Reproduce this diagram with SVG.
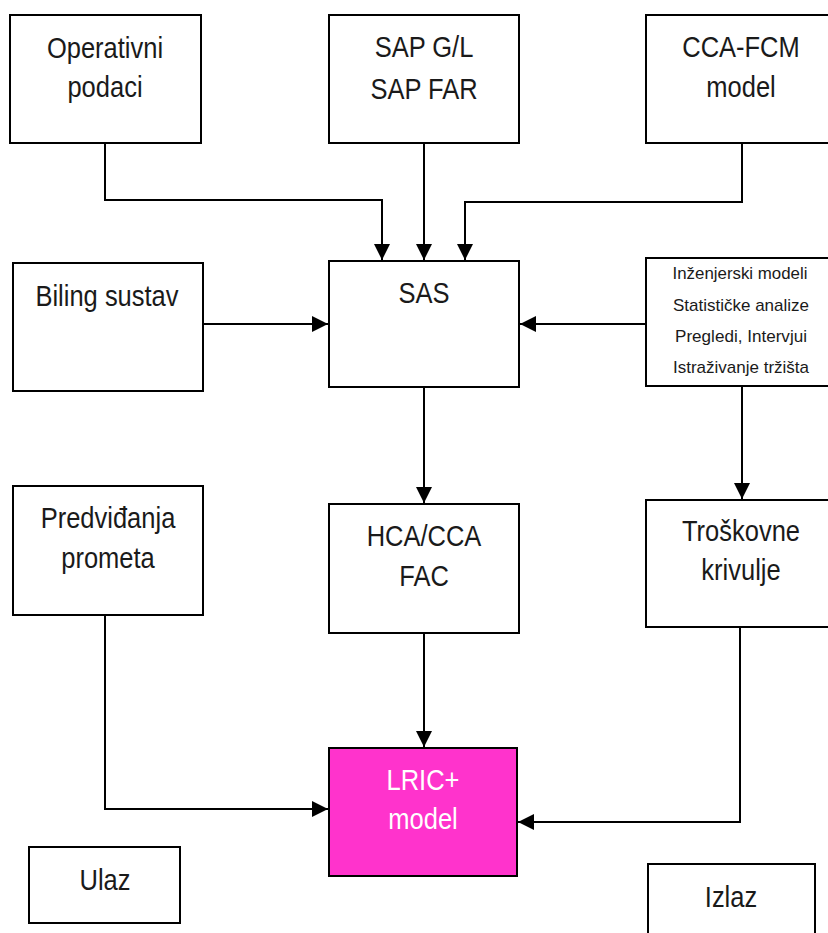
<svg xmlns="http://www.w3.org/2000/svg" width="828" height="933" viewBox="0 0 828 933">
<style>
.box{fill:#fff;stroke:#000;stroke-width:2}
.hl{fill:#ff33cc;stroke:#000;stroke-width:2}
.t{font-family:"Liberation Sans",Arial,sans-serif;font-size:30px;fill:#1a1a1a;text-anchor:middle}
.w{fill:#fff}
.s{font-family:"Liberation Sans",Arial,sans-serif;font-size:17px;fill:#1a1a1a;text-anchor:middle}
.c{fill:none;stroke:#000;stroke-width:2}
</style>
<defs>
<marker id="ah" viewBox="0 0 16 16" refX="16" refY="8" markerWidth="16" markerHeight="16" markerUnits="userSpaceOnUse" orient="auto">
<path d="M0,0 L16,8 L0,16 z" fill="#000"/>
</marker>
</defs>
<rect width="828" height="933" fill="#fff"/>
<g id="connectors">
<path class="c" d="M105,143 V200 H382 V260" marker-end="url(#ah)"/>
<path class="c" d="M424,143 V260" marker-end="url(#ah)"/>
<path class="c" d="M742,143 V202 H465 V260" marker-end="url(#ah)"/>
<path class="c" d="M203,324 H328" marker-end="url(#ah)"/>
<path class="c" d="M646,324 H520" marker-end="url(#ah)"/>
<path class="c" d="M742,386 V499" marker-end="url(#ah)"/>
<path class="c" d="M424,387 V503" marker-end="url(#ah)"/>
<path class="c" d="M424,633 V747" marker-end="url(#ah)"/>
<path class="c" d="M105,615 V809 H328" marker-end="url(#ah)"/>
<path class="c" d="M740,627 V822 H518" marker-end="url(#ah)"/>
</g>
<g id="operativni">
<rect class="box" x="10" y="15" width="191" height="128"/>
<text class="t" transform="translate(105,58) scale(0.85,1)">Operativni</text>
<text class="t" transform="translate(105,97) scale(0.85,1)">podaci</text>
</g>
<g id="sap">
<rect class="box" x="329" y="15" width="190" height="128"/>
<text class="t" transform="translate(424,57) scale(0.85,1)">SAP G/L</text>
<text class="t" transform="translate(424,99) scale(0.85,1)">SAP FAR</text>
</g>
<g id="ccafcm">
<rect class="box" x="646" y="15" width="190" height="128"/>
<text class="t" transform="translate(741,57) scale(0.85,1)">CCA-FCM</text>
<text class="t" transform="translate(741,97) scale(0.85,1)">model</text>
</g>
<g id="biling">
<rect class="box" x="13" y="263" width="190" height="128"/>
<text class="t" transform="translate(107,306) scale(0.85,1)">Biling sustav</text>
</g>
<g id="sas">
<rect class="box" x="329" y="261" width="190" height="126"/>
<text class="t" transform="translate(424,303) scale(0.85,1)">SAS</text>
</g>
<g id="inzenjerski">
<rect class="box" x="646" y="258" width="190" height="128"/>
<text class="s" x="740" y="279" textLength="135" lengthAdjust="spacingAndGlyphs">Inženjerski modeli</text>
<text class="s" x="741" y="311" textLength="136" lengthAdjust="spacingAndGlyphs">Statističke analize</text>
<text class="s" x="741" y="342" textLength="132" lengthAdjust="spacingAndGlyphs">Pregledi, Intervjui</text>
<text class="s" x="741" y="373" textLength="136" lengthAdjust="spacingAndGlyphs">Istraživanje tržišta</text>
</g>
<g id="predvidanja">
<rect class="box" x="13" y="486" width="190" height="129"/>
<text class="t" transform="translate(108,528) scale(0.85,1)">Predviđanja</text>
<text class="t" transform="translate(108,568) scale(0.85,1)">prometa</text>
</g>
<g id="hca">
<rect class="box" x="329" y="504" width="190" height="129"/>
<text class="t" transform="translate(424,546) scale(0.85,1)">HCA/CCA</text>
<text class="t" transform="translate(424,586) scale(0.85,1)">FAC</text>
</g>
<g id="troskovne">
<rect class="box" x="646" y="500" width="190" height="127"/>
<text class="t" transform="translate(741,541) scale(0.85,1)">Troškovne</text>
<text class="t" transform="translate(741,580) scale(0.85,1)">krivulje</text>
</g>
<g id="lric">
<rect class="hl" x="329" y="748" width="188" height="128"/>
<text class="t w" transform="translate(423,790) scale(0.85,1)">LRIC+</text>
<text class="t w" transform="translate(423,829) scale(0.85,1)">model</text>
</g>
<g id="ulaz">
<rect class="box" x="29" y="847" width="151" height="76"/>
<text class="t" transform="translate(105,890) scale(0.85,1)">Ulaz</text>
</g>
<g id="izlaz">
<rect class="box" x="648" y="864" width="167" height="80"/>
<text class="t" transform="translate(731,907) scale(0.85,1)">Izlaz</text>
</g>
</svg>
